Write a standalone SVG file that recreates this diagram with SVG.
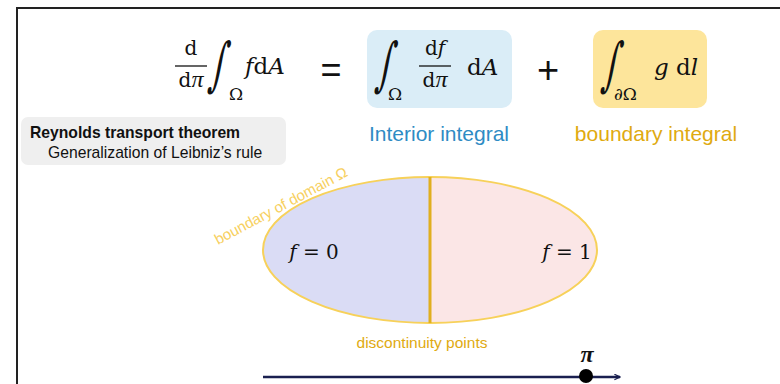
<svg xmlns="http://www.w3.org/2000/svg" width="780" height="384" viewBox="0 0 780 384">
<style>
.mi{font-family:"DejaVu Serif",serif;font-style:italic;fill:#111}
.pi{font-family:"Liberation Serif","DejaVu Serif",serif;font-style:italic;fill:#111}
.mu{font-family:"DejaVu Serif",serif;fill:#111}
.s{font-family:"Liberation Sans",Arial,sans-serif}
.int{font-family:"DejaVu Serif",serif;fill:#111}
</style>
<defs>
<marker id="arr" viewBox="0 0 10 10" refX="9" refY="5" markerWidth="7" markerHeight="7" orient="auto" markerUnits="userSpaceOnUse">
<path d="M1,1 L9,5 L1,9" fill="none" stroke="#1a2050" stroke-width="1.8"/>
</marker>
<clipPath id="ell"><ellipse cx="430" cy="250" rx="167" ry="73"/></clipPath>
</defs>
<rect x="0" y="0" width="780" height="384" fill="#fff"/>
<path d="M17,384 L17,8 L780,8" fill="none" stroke="#222" stroke-width="2"/>

<g id="formula">
<text class="mu" x="191" y="55" font-size="20" text-anchor="middle">d</text>
<line x1="175" y1="66" x2="207" y2="66" stroke="#111" stroke-width="1.3"/>
<text x="191" y="87" font-size="20" text-anchor="middle"><tspan class="mu">d</tspan><tspan class="pi" font-size="24">π</tspan></text>
<text class="int" x="0" y="0" font-size="40" transform="translate(208,84) skewX(-10) scale(0.8,1.45)">∫</text>
<text class="mu" x="229" y="100" font-size="17">Ω</text>
<text x="245" y="74" font-size="23"><tspan class="mi">f</tspan><tspan class="mu">d</tspan><tspan class="mi">A</tspan></text>
<text class="s" x="331" y="82" font-size="36" text-anchor="middle" fill="#111">=</text>
</g>

<g id="interior">
<rect x="367" y="30" width="145" height="78" rx="10" fill="#daedf7"/>
<text class="int" x="0" y="0" font-size="40" transform="translate(375,84) skewX(-10) scale(0.8,1.45)">∫</text>
<text class="mu" x="388" y="100" font-size="17">Ω</text>
<text x="435" y="55" font-size="20" text-anchor="middle"><tspan class="mu">d</tspan><tspan class="mi">f</tspan></text>
<line x1="419" y1="66" x2="451" y2="66" stroke="#111" stroke-width="1.3"/>
<text x="435" y="87" font-size="20" text-anchor="middle"><tspan class="mu">d</tspan><tspan class="pi" font-size="24">π</tspan></text>
<text x="467" y="75" font-size="23"><tspan class="mu">d</tspan><tspan class="mi">A</tspan></text>
<text class="s" x="439" y="141" font-size="21" text-anchor="middle" fill="#2e8bc4">Interior integral</text>
</g>

<text class="s" x="548" y="83" font-size="38" text-anchor="middle" fill="#111">+</text>

<g id="boundary">
<rect x="593" y="30" width="114" height="78" rx="10" fill="#fde59b"/>
<text class="int" x="0" y="0" font-size="40" transform="translate(601,84) skewX(-10) scale(0.8,1.45)">∫</text>
<text class="mu" x="614" y="100" font-size="17">∂Ω</text>
<text x="654" y="75" font-size="23"><tspan class="mi">g</tspan><tspan class="mu"> d</tspan><tspan class="mi">l</tspan></text>
<text class="s" x="656" y="141" font-size="21" text-anchor="middle" fill="#e0aa10">boundary integral</text>
</g>

<g id="note">
<rect x="21" y="117" width="265" height="48" rx="7" fill="#efefef"/>
<text class="s" x="30" y="138" font-size="15.7" font-weight="bold" fill="#111">Reynolds transport theorem</text>
<text class="s" x="48" y="158" font-size="15.7" fill="#111">Generalization of Leibniz’s rule</text>
</g>

<g id="domain">
<g clip-path="url(#ell)">
<rect x="263" y="177" width="167" height="146" fill="#dadcf5"/>
<rect x="430" y="177" width="167" height="146" fill="#fbe6e6"/>
</g>
<ellipse cx="430" cy="250" rx="167" ry="73" fill="none" stroke="#f7d15a" stroke-width="2"/>
<line x1="430" y1="177" x2="430" y2="323" stroke="#e0af1f" stroke-width="3"/>
<text x="314" y="259" font-size="20" text-anchor="middle"><tspan class="mi">f</tspan><tspan class="mu"> = 0</tspan></text>
<text x="567" y="259" font-size="20" text-anchor="middle"><tspan class="mi">f</tspan><tspan class="mu"> = 1</tspan></text>
<text class="s" x="0" y="0" font-size="15" fill="#f7d060" transform="translate(218,245) rotate(-28)">boundary of domain Ω</text>
<text class="s" x="422" y="348" font-size="15.5" text-anchor="middle" fill="#e0aa10">discontinuity points</text>
</g>

<g id="connectors">
<line x1="263" y1="377" x2="620" y2="377" stroke="#1a2050" stroke-width="2.5" marker-end="url(#arr)"/>
</g>
<g id="pi">
<circle cx="586" cy="376" r="7" fill="#000"/>
<text class="pi" x="587" y="362" font-size="24" font-weight="bold" text-anchor="middle">π</text>
</g>
</svg>
